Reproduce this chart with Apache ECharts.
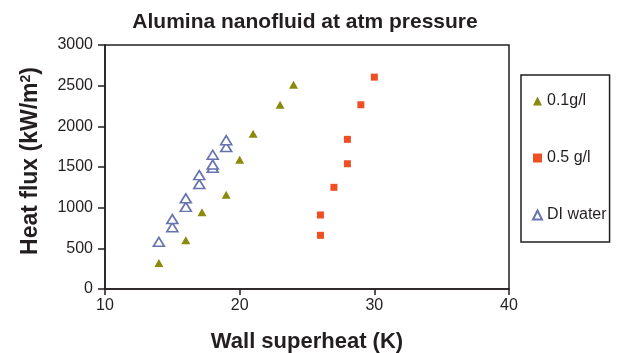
<!DOCTYPE html>
<html>
<head>
<meta charset="utf-8">
<script src="https://cdn.jsdelivr.net/npm/echarts@6/dist/echarts.min.js"></script>
<style>
  html, body { margin: 0; padding: 0; background: #fff; }
  #chart { width: 617px; height: 353px; }
</style>
</head>
<body>
<div id="chart"></div>
<script>
  // values (wall superheat K, heat flux kW/m2)
  const seriesNames = ['0.1g/l', '0.5 g/l', 'DI water'];
  const lowConc = [[14, 320], [16, 600], [17.2, 945], [19, 1160], [20, 1590], [21, 1910], [23, 2265], [24, 2510]];
  const highConc = [[26, 660], [26, 910], [27, 1250], [28, 1540], [28, 1840], [29, 2265], [30, 2605]];
  const diWater = [[14, 580], [15, 760], [15, 860], [16, 1010], [16, 1115], [17, 1290], [17, 1400],
    [18, 1490], [18, 1530], [18, 1650], [19, 1745], [19, 1830]];
  const xTicks = [10, 20, 30, 40];
  const yTicks = [0, 500, 1000, 1500, 2000, 2500, 3000];

  const font = 'Liberation Sans, Arial, sans-serif';
  const ink = '#231f20';
  const chart = echarts.init(document.getElementById('chart'));

  chart.setOption({
    animation: false,
    textStyle: { fontFamily: font },
    title: {
      text: 'Alumina nanofluid at atm pressure',
      left: 300,
      textAlign: 'center',
      top: 7,
      textStyle: { fontSize: 21, fontWeight: 'bold', color: ink, fontFamily: font }
    },
    grid: {
      left: 105, right: 108, top: 45, bottom: 64,
      outerBoundsMode: 'none',
      show: true, borderColor: ink, borderWidth: 1.5
    },
    legend: {
      orient: 'vertical',
      left: 521, top: 75,
      padding: [18, 3, 19, 11],
      itemGap: 41,
      itemWidth: 9, itemHeight: 9,
      borderColor: ink, borderWidth: 1.5,
      textStyle: { fontSize: 16, color: ink, fontFamily: font },
      data: seriesNames
    },
    xAxis: {
      type: 'value',
      min: xTicks[0], max: xTicks[xTicks.length - 1], interval: 10,
      name: 'Wall superheat (K)',
      nameLocation: 'middle', nameGap: 42,
      nameTextStyle: { fontSize: 22, fontWeight: 'bold', color: ink, fontFamily: font },
      axisLine: { lineStyle: { color: ink, width: 1.5 } },
      axisTick: { show: true, length: 6, lineStyle: { color: ink, width: 1.5 } },
      axisLabel: { fontSize: 16, color: ink, margin: 9 },
      splitLine: { show: false }
    },
    yAxis: {
      type: 'value',
      min: yTicks[0], max: yTicks[yTicks.length - 1], interval: 500,
      name: 'Heat flux (kW/m{sup|2})',
      nameLocation: 'middle', nameGap: 62,
      nameTextStyle: {
        fontSize: 23, fontWeight: 'bold', color: ink, fontFamily: font,
        padding: [0, 0, 0, 12],
        rich: { sup: { fontSize: 14, fontWeight: 'bold', color: ink, verticalAlign: 'top', padding: [0, 0, 10, 0] } }
      },
      axisLine: { show: true, lineStyle: { color: ink, width: 1.5 } },
      axisTick: { show: true, length: 7, lineStyle: { color: ink, width: 1.5 } },
      axisLabel: { fontSize: 16, color: ink, margin: 12, formatter: v => String(v) },
      splitLine: { show: false }
    },
    series: [
      {
        name: seriesNames[0], type: 'scatter', data: lowConc,
        symbol: 'triangle', symbolSize: [9, 8],
        itemStyle: { color: '#8c8a0c', opacity: 1 }
      },
      {
        name: seriesNames[1], type: 'scatter', data: highConc,
        symbol: 'rect', symbolSize: 7,
        itemStyle: { color: '#f04f24', opacity: 1 }
      },
      {
        name: seriesNames[2], type: 'scatter', data: diWater,
        symbol: 'triangle', symbolSize: [11, 9],
        itemStyle: { color: '#fff', borderColor: '#6673ad', borderWidth: 1.6, opacity: 1 }
      }
    ]
  });

  window.addEventListener('resize', () => chart.resize());
</script>
</body>
</html>
